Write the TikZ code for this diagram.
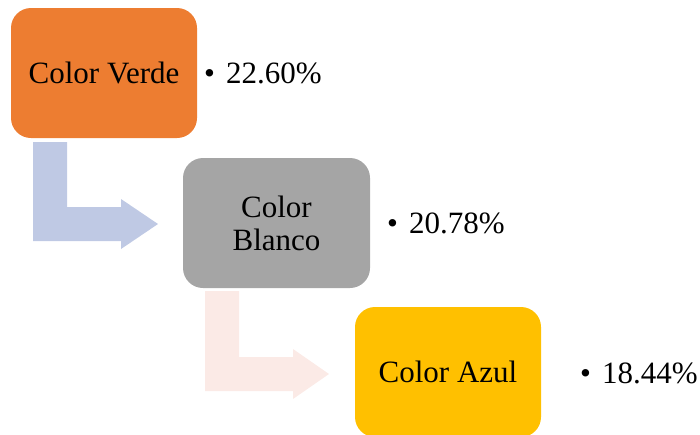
\documentclass[tikz,border=0pt]{standalone}
\usepackage{fontspec}
\setmainfont{Liberation Serif}
\definecolor{boxorange}{HTML}{ED7D31}
\definecolor{boxgray}{HTML}{A5A5A5}
\definecolor{boxgold}{HTML}{FFC000}
\definecolor{arrowblue}{HTML}{BFC9E4}
\definecolor{arrowpeach}{HTML}{FBEAE6}
\tikzset{
  stagebox/.style={draw=none, rounded corners=20pt, minimum width=186pt, minimum height=130pt, inner sep=2pt, align=center, font=\fontsize{31}{33}\selectfont},
  pctlabel/.style={anchor=base west, inner sep=0pt, font=\fontsize{31}{33}\selectfont},
  bentarrow/.style={draw=none}
}
\newcommand{\pct}[1]{\textbullet\hspace{11pt}#1}
\begin{document}
\begin{tikzpicture}[x=1pt,y=-1pt]
\useasboundingbox (0,0) rectangle (700,434);
\clip (0,0) rectangle (700,434);
% bent arrows
\fill[arrowblue, bentarrow] (33,142) -- (67,142) -- (67,207) -- (121,207) -- (121,199) -- (158,224) -- (121,249) -- (121,241) -- (33,241) -- cycle;
\fill[arrowpeach, bentarrow] (205,291) -- (239,291) -- (239,357) -- (293,357) -- (293,349) -- (329,374) -- (293,399) -- (293,391) -- (205,391) -- cycle;
% boxes
\node[stagebox, fill=boxorange] (verde) at (104,73) {Color Verde};
\node[stagebox, fill=boxgray, minimum width=187pt] (blanco) at (276.5,223) {Color\\Blanco};
\node[stagebox, fill=boxgold] (azul) at (448,372) {Color Azul};
% percentages
\node[pctlabel] (p1) at (204,83) {\pct{22.60\%}};
\node[pctlabel] (p2) at (387,233) {\pct{20.78\%}};
\node[pctlabel] (p3) at (580,383) {\pct{18.44\%}};
\end{tikzpicture}
\end{document}
